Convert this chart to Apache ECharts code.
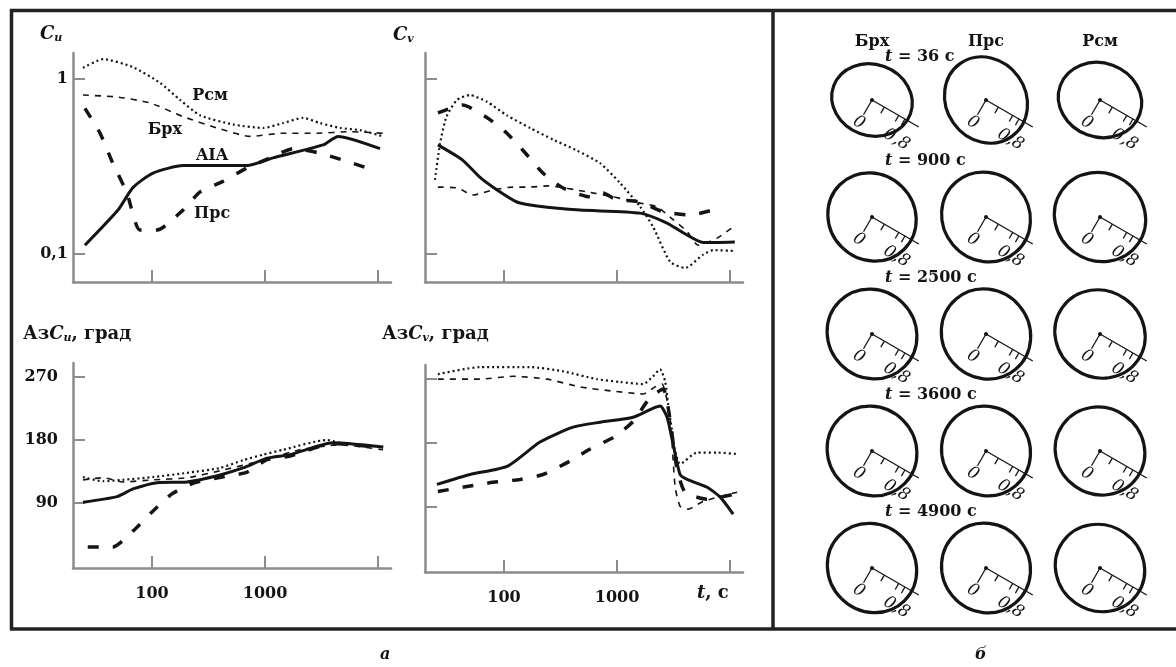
<!DOCTYPE html>
<html>
<head>
<meta charset="utf-8">
<title>Cu, Cv, AzCu, AzCv</title>
<script src="https://cdn.jsdelivr.net/npm/echarts@6/dist/echarts.min.js"></script>
</head>
<body style="margin:0">
<div id="main" style="width:1176px;height:667px"></div>
<script>
// [t, s ; value]
var cuRsm = [[24.5,1.16],[37,1.30],[68,1.17],[118,0.95],[177,0.76],[266,0.62],[520,0.55],[960,0.525],[1440,0.56],[2170,0.60],[3070,0.56],[4610,0.525],[6930,0.51],[11070,0.47]];
var cuBrh = [[24.5,0.81],[49,0.79],[96,0.73],[188,0.61],[376,0.525],[737,0.47],[1440,0.49],[2880,0.49],[5650,0.50],[11070,0.49]];
var cuPrs = [[25.5,0.68],[34.7,0.49],[45,0.33],[60,0.223],[78,0.137],[111,0.137],[188,0.178],[266,0.226],[425,0.26],[693,0.31],[1180,0.36],[1770,0.40],[2880,0.38],[4900,0.344],[8000,0.31]];
var cuAIA = [[25.5,0.112],[50,0.178],[68,0.24],[102,0.29],[188,0.32],[693,0.32],[1180,0.354],[3260,0.42],[4430,0.47],[10400,0.40]];

var cvRsm = [[24.5,0.265],[27.2,0.43],[31,0.61],[38.4,0.76],[50,0.81],[71,0.74],[106,0.62],[170,0.525],[272,0.45],[442,0.39],[707,0.33],[1060,0.255],[1600,0.186],[2080,0.143],[2950,0.09],[4000,0.083],[5770,0.099],[7080,0.105],[10640,0.104]];
var cvBrh = [[26,0.241],[39,0.238],[53,0.217],[80,0.232],[118,0.241],[170,0.241],[245,0.245],[543,0.226],[922,0.212],[1600,0.195],[2250,0.186],[3130,0.157],[4170,0.134],[5210,0.112],[7680,0.123],[10420,0.141]];
var cvPrs = [[26,0.64],[43,0.71],[71,0.60],[106,0.49],[153,0.38],[221,0.29],[333,0.238],[577,0.212],[752,0.223],[960,0.206],[1600,0.198],[2550,0.174],[4430,0.167],[7680,0.181]];
var cvAIA = [[26,0.42],[43,0.344],[61,0.275],[87,0.232],[130,0.198],[196,0.188],[470,0.178],[1600,0.171],[2770,0.150],[3840,0.132],[5770,0.116],[11000,0.117]];

var azuRsm = [[24.5,127],[36.8,121],[55,123],[102,127],[204,133],[400,140],[637,151],[960,159],[1443,166],[3530,180],[4610,176],[11070,170]];
var azuBrh = [[24.5,123],[36.8,126],[55,120],[102,123],[204,126],[400,136],[960,151],[2040,166],[4610,173],[11070,166]];
var azuPrs = [[27,27],[45,27],[68,50],[100,77],[150,103],[240,119],[417,127],[693,134],[1040,152],[1670,157],[3990,175],[11070,169]];
var azuAIA = [[24.5,91],[49,99],[68,110],[111,119],[204,120],[400,130],[637,140],[1040,154],[1670,159],[3990,176],[11070,170]];

var azvRsm = [[26,277],[61,287],[170,287],[333,281],[665,270],[1060,266],[1700,263],[2080,274],[2400,284],[2660,267],[2830,234],[3070,196],[3260,168],[3610,150],[5100,166],[7680,166],[11530,164]];
var azvBrh = [[26,270],[61,270],[120,274],[240,270],[470,259],[922,253],[1700,249],[2170,259],[2500,263],[2950,213],[3260,118],[3610,90],[4250,86],[5770,97],[11530,110]];
var azvPrs = [[26,111],[47,118],[80,124],[139,128],[221,135],[384,154],[577,171],[960,189],[1385,210],[1960,244],[2550,256],[3400,142],[4000,110],[6260,100],[11530,108]];
var azvAIA = [[25.5,121],[50,135],[108,147],[208,181],[408,202],[707,209],[1385,216],[2400,232],[2770,216],[3130,178],[3610,135],[4170,128],[6260,117],[8170,103],[10640,79]];

var xTicks = [100, 1000, 10000];
var xTickLabels = [100, 1000];
var cTicks = [0.1, 1];
var azTicks = [90, 180, 270];

// current ellipses: semi-axes in units of the 0..0,8 scale, inclination in degrees
var stations = ['Брх', 'Прс', 'Рсм'];
var ellipseTimes = [36, 900, 2500, 3600, 4900];
var ellipseMajor = [[0.86,0.94,0.89],[0.96,0.97,0.98],[0.97,0.97,0.97],[0.97,0.96,0.96],[0.97,0.96,0.96]];
var ellipseMinor = [[0.75,0.84,0.78],[0.90,0.91,0.92],[0.92,0.92,0.91],[0.92,0.92,0.91],[0.91,0.92,0.90]];
var ellipseIncl  = [[-20,-55,-20],[-45,-50,-35],[-45,-50,-35],[-45,-50,-35],[-45,-50,-35]];

var FF = 'DejaVu Serif';
var INK = '#141414';
var AX = '#8c8c8c';
var PX = 47.5; // px per unit of ellipse scale

var myChart = echarts.init(document.getElementById('main'));

var lineStyles = {
    'Брх': {type: [6, 6], width: 1.6},
    'Рсм': {type: [2, 3], width: 2.2},
    'Прс': {type: [11, 14], width: 3.5},
    'AIA': {type: 'solid', width: 3}
};

function tag(name, coord) {
    return {
        symbol: 'circle', symbolSize: 0, silent: true,
        data: [{coord: coord}],
        label: {show: true, position: 'inside', formatter: name, color: INK,
            fontFamily: FF, fontWeight: 'bold', fontSize: 16}
    };
}

function line(name, data, gi, tagCoord) {
    var s = {
        name: name, type: 'line', xAxisIndex: gi, yAxisIndex: gi,
        data: data, symbol: 'none', smooth: 0.2, silent: true,
        lineStyle: {color: INK, width: lineStyles[name].width, type: lineStyles[name].type, cap: 'butt'}
    };
    if (tagCoord) s.markPoint = tag(name, tagCoord);
    return s;
}

function xAx(gi, labels) {
    return {
        type: 'log', gridIndex: gi, min: 20, max: 13000,
        axisLine: {onZero: false, lineStyle: {color: AX, width: 2.5}},
        axisTick: {inside: true, length: 12, customValues: xTicks, lineStyle: {color: AX, width: 2}},
        axisLabel: labels ? {customValues: xTickLabels, margin: 18, color: INK, fontFamily: FF,
            fontWeight: 'bold', fontSize: 16, formatter: function (v) { return String(v); }} : {show: false},
        splitLine: {show: false}
    };
}

function cAx(gi, labels) {
    return {
        type: 'log', gridIndex: gi, min: 0.069, max: 1.41,
        axisLine: {onZero: false, lineStyle: {color: AX, width: 2.5}},
        axisTick: {inside: true, length: 12, customValues: cTicks, lineStyle: {color: AX, width: 2}},
        axisLabel: labels ? {customValues: cTicks, margin: 5, color: INK, fontFamily: FF,
            fontWeight: 'bold', fontSize: 16, formatter: function (v) { return v >= 1 ? '1' : '0,1'; }} : {show: false},
        splitLine: {show: false}
    };
}

function azAx(gi, labels) {
    return {
        type: 'value', gridIndex: gi, min: -3, max: 290,
        axisLine: {onZero: false, lineStyle: {color: AX, width: 2.5}},
        axisTick: {inside: true, length: 12, customValues: azTicks, lineStyle: {color: AX, width: 2}},
        axisLabel: labels ? {customValues: azTicks, margin: 15, color: INK, fontFamily: FF,
            fontWeight: 'bold', fontSize: 16} : {show: false},
        splitLine: {show: false}
    };
}

var ellipseData = [];
ellipseTimes.forEach(function (t, r) {
    stations.forEach(function (s, c) {
        ellipseData.push([c, r, ellipseMajor[r][c], ellipseMinor[r][c], ellipseIncl[r][c]]);
    });
});
var timeRows = ellipseTimes.map(function (t, r) { return [0, r, t]; });

var scaleFont = {fontFamily: FF, fontStyle: 'italic', fontSize: 17, fill: INK, align: 'center', verticalAlign: 'middle'};

function renderEllipse(params, api) {
    var p = api.coord([api.value(0), api.value(1)]);
    var rx = api.value(2) * PX, ry = api.value(3) * PX;
    var ticks = [0.3, 0.65, 0.8].map(function (u) {
        return {type: 'line', shape: {x1: u * PX, y1: 0, x2: u * PX, y2: 7}, style: {stroke: INK, lineWidth: 1.3}};
    });
    return {
        type: 'group',
        children: [
            {type: 'ellipse', x: p[0], y: p[1], rotation: api.value(4) * Math.PI / 180,
                shape: {cx: 0, cy: 0, rx: rx, ry: ry},
                style: {fill: 'transparent', stroke: INK, lineWidth: 3.2}},
            {type: 'group', x: p[0], y: p[1], rotation: -30 * Math.PI / 180,
                children: [
                    {type: 'line', shape: {x1: 0, y1: 0, x2: 54, y2: 0}, style: {stroke: INK, lineWidth: 1.3}},
                    {type: 'line', shape: {x1: 0, y1: 0, x2: 0, y2: 17}, style: {stroke: INK, lineWidth: 1.3}},
                    {type: 'circle', shape: {cx: 0, cy: 0, r: 2}, style: {fill: INK}},
                    {type: 'text', x: 0, y: 26, style: Object.assign({text: '0'}, scaleFont)},
                    {type: 'text', x: 41, y: 22, style: Object.assign({text: '0,8'}, scaleFont)}
                ].concat(ticks)}
        ]
    };
}

function renderTime(params, api) {
    var p = api.coord([api.value(0), api.value(1)]);
    var dy = api.value(1) === 0 ? -43 : -56;
    return {
        type: 'text', x: p[0] + 13, y: p[1] + dy,
        style: {
            text: '{i|t} = ' + api.value(2) + ' с',
            fontFamily: FF, fontWeight: 'bold', fontSize: 16, fill: INK,
            align: 'left', verticalAlign: 'middle',
            rich: {i: {fontFamily: FF, fontWeight: 'bold', fontStyle: 'italic', fontSize: 16, color: INK}}
        }
    };
}

var rich = {
    n: {fontFamily: FF, fontWeight: 'bold', fontSize: 18, color: INK},
    c: {fontFamily: FF, fontWeight: 'bold', fontStyle: 'italic', fontSize: 18, color: INK},
    ci: {fontFamily: FF, fontWeight: 'bold', fontStyle: 'italic', fontSize: 18, color: INK},
    s: {fontFamily: FF, fontWeight: 'bold', fontStyle: 'italic', fontSize: 11, color: INK, padding: [9, 0, 0, 0]},
    cap: {fontFamily: FF, fontStyle: 'italic', fontSize: 16, color: INK}
};

function title(text, left, top) {
    return {text: text, left: left, top: top, padding: 0, textStyle: {rich: rich}};
}

option = {
    animation: false,
    backgroundColor: '#fff',
    title: [
        title('{c|C}{s|u}', 40, 24),
        title('{c|C}{s|v}', 393, 25),
        title('{n|Аз}{ci|C}{s|u}{n|, град}', 23, 324),
        title('{n|Аз}{ci|C}{s|v}{n|, град}', 382, 324),
        title('{ci|t}{n|, с}', 697, 584),
        title('{cap|а}', 380, 647),
        title('{cap|б}', 975, 647)
    ],
    grid: [
        {left: 73, top: 53, width: 318, height: 229},
        {left: 425, top: 53, width: 318, height: 229},
        {left: 73, top: 363, width: 318, height: 205},
        {left: 425, top: 365, width: 318, height: 207},
        {left: 815, top: 41.5, width: 342, height: 585}
    ],
    xAxis: [
        xAx(0, false), xAx(1, false), xAx(2, true), xAx(3, true),
        {type: 'category', gridIndex: 4, data: stations, position: 'top', offset: -10,
            axisLine: {show: false}, axisTick: {show: false},
            axisLabel: {margin: 2, color: INK, fontFamily: FF, fontWeight: 'bold', fontSize: 16}}
    ],
    yAxis: [
        cAx(0, true), cAx(1, false), azAx(2, true), azAx(3, false),
        {type: 'category', gridIndex: 4, data: ellipseTimes, inverse: true, show: false}
    ],
    graphic: [
        {type: 'line', shape: {x1: 10, y1: 10.5, x2: 1176, y2: 10.5}, style: {stroke: '#222', lineWidth: 3.5}},
        {type: 'line', shape: {x1: 11.5, y1: 9, x2: 11.5, y2: 630}, style: {stroke: '#222', lineWidth: 3.5}},
        {type: 'line', shape: {x1: 10, y1: 629, x2: 1176, y2: 629}, style: {stroke: '#222', lineWidth: 3.5}},
        {type: 'line', shape: {x1: 773, y1: 9, x2: 773, y2: 630}, style: {stroke: '#222', lineWidth: 3.5}}
    ],
    series: [
        line('Брх', cuBrh, 0, [130, 0.51]),
        line('Рсм', cuRsm, 0, [326, 0.80]),
        line('Прс', cuPrs, 0, [340, 0.169]),
        line('AIA', cuAIA, 0, [340, 0.363]),
        line('Брх', cvBrh, 1), line('Рсм', cvRsm, 1), line('Прс', cvPrs, 1), line('AIA', cvAIA, 1),
        line('Брх', azuBrh, 2), line('Рсм', azuRsm, 2), line('Прс', azuPrs, 2), line('AIA', azuAIA, 2),
        line('Брх', azvBrh, 3), line('Рсм', azvRsm, 3), line('Прс', azvPrs, 3), line('AIA', azvAIA, 3),
        {type: 'custom', xAxisIndex: 4, yAxisIndex: 4, data: ellipseData, renderItem: renderEllipse,
            encode: {x: 0, y: 1}, silent: true, clip: false},
        {type: 'custom', xAxisIndex: 4, yAxisIndex: 4, data: timeRows, renderItem: renderTime,
            encode: {x: 0, y: 1}, silent: true, clip: false}
    ]
};

myChart.setOption(option);
</script>
</body>
</html>
